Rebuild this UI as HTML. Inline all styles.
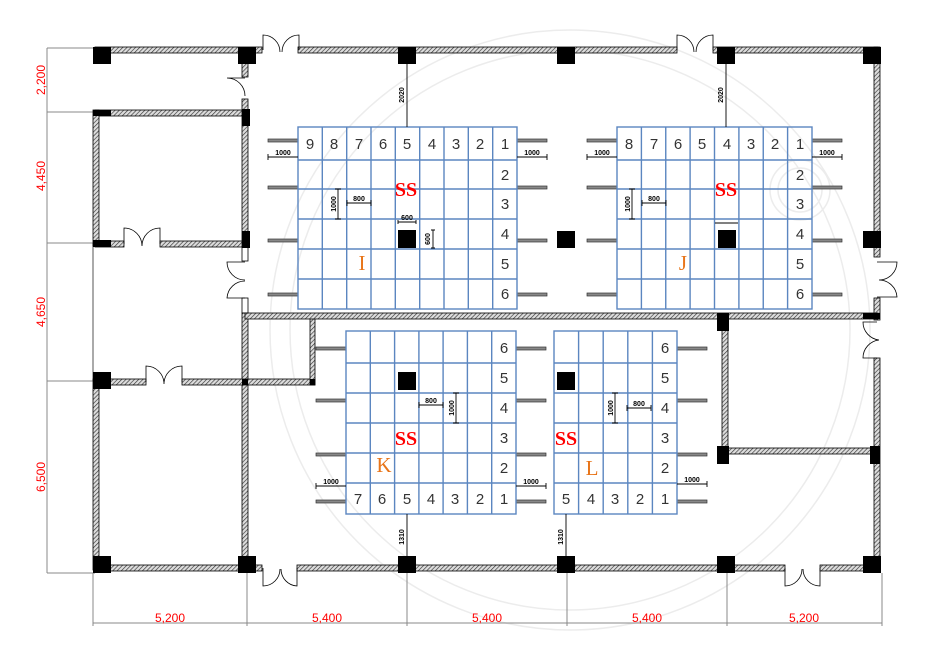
<!DOCTYPE html>
<html><head><meta charset="utf-8"><style>html,body{margin:0;padding:0;background:#fff}svg{display:block}</style></head><body>
<svg width="934" height="645" viewBox="0 0 934 645" xmlns="http://www.w3.org/2000/svg" font-family="Liberation Sans, sans-serif">
<defs>
<pattern id="h" width="3" height="3" patternUnits="userSpaceOnUse" patternTransform="rotate(45)"><rect width="3" height="3" fill="#ddd"/><line x1="0" y1="0" x2="0" y2="3" stroke="#333" stroke-width="1.3"/></pattern>
</defs>
<!-- faint watermark -->
<g fill="none" stroke="#ececec" stroke-width="1.5">
<circle cx="570" cy="330" r="300"/><circle cx="570" cy="330" r="280"/>
<circle cx="800" cy="190" r="30"/><circle cx="800" cy="190" r="22"/>
</g>
<!-- dimension lines -->
<g stroke="#888" stroke-width="1" fill="none">
<line x1="47" y1="48" x2="47" y2="573"/>
<line x1="47" y1="48" x2="95" y2="48"/><line x1="47" y1="112" x2="95" y2="112"/><line x1="47" y1="243" x2="95" y2="243"/><line x1="47" y1="381" x2="95" y2="381"/><line x1="47" y1="573" x2="95" y2="573"/>
<line x1="93" y1="623" x2="882" y2="623"/>
<line x1="93" y1="573" x2="93" y2="626"/><line x1="247" y1="573" x2="247" y2="626"/><line x1="407" y1="573" x2="407" y2="626"/><line x1="567" y1="573" x2="567" y2="626"/><line x1="727" y1="573" x2="727" y2="626"/><line x1="882" y1="573" x2="882" y2="626"/>
<line x1="93" y1="243" x2="93" y2="381" stroke="#555"/>
</g>
<g fill="#f00" font-size="12">
<text transform="translate(45,80) rotate(-90)" text-anchor="middle">2,200</text>
<text transform="translate(45,176) rotate(-90)" text-anchor="middle">4,450</text>
<text transform="translate(45,312) rotate(-90)" text-anchor="middle">4,650</text>
<text transform="translate(45,477) rotate(-90)" text-anchor="middle">6,500</text>
<text x="170" y="622" text-anchor="middle">5,200</text>
<text x="327" y="622" text-anchor="middle">5,400</text>
<text x="487" y="622" text-anchor="middle">5,400</text>
<text x="647" y="622" text-anchor="middle">5,400</text>
<text x="804" y="622" text-anchor="middle">5,200</text>
</g>
<!-- walls -->
<g fill="url(#h)" stroke="#000" stroke-width="0.8">
<rect x="95" y="47" width="167" height="6"/><rect x="298" y="47" width="379" height="6"/><rect x="713" y="47" width="165" height="6"/>
<rect x="874" y="47" width="6" height="210"/><rect x="874" y="298" width="6" height="22"/><rect x="874" y="358" width="6" height="212"/>
<rect x="95" y="110" width="150" height="6"/>
<rect x="93" y="110" width="6" height="136"/>
<rect x="95" y="241" width="29" height="6"/><rect x="160" y="241" width="85" height="6"/>
<rect x="242" y="53" width="6" height="24"/><rect x="242" y="99" width="6" height="148"/>
<rect x="242" y="313" width="6" height="257"/>
<rect x="93" y="379" width="6" height="191"/>
<rect x="95" y="379" width="51" height="6"/><rect x="182" y="379" width="133" height="6"/>
<rect x="310" y="315" width="5" height="70"/>
<rect x="245" y="313" width="633" height="6"/>
<rect x="722" y="318" width="6" height="132"/><rect x="725" y="448" width="153" height="6"/>
<rect x="95" y="565" width="167" height="6"/><rect x="297" y="565" width="488" height="6"/><rect x="820" y="565" width="58" height="6"/>
</g>
<g fill="none" stroke="#000" stroke-width="0.8">
<rect x="242" y="247" width="6" height="14"/><rect x="242" y="298" width="6" height="15"/>
<!-- doors -->
<path d="M263,50 V35 A17,17 0 0 1 280,52 M299,50 V35 A17,17 0 0 0 282,52"/>
<path d="M677,50 V35 A17,17 0 0 1 694,52 M713,50 V35 A17,17 0 0 0 696,52"/>
<path d="M245,78 H227 A18,18 0 0 1 245,96"/>
<path d="M245,262 H227 A18,18 0 0 0 245,280 M245,298 H227 A18,18 0 0 1 245,281"/>
<path d="M124,244 V228 A18,18 0 0 1 142,246 M160,244 V228 A18,18 0 0 0 142,246"/>
<path d="M146,382 V366 A18,18 0 0 1 164,384 M182,382 V366 A18,18 0 0 0 164,384"/>
<path d="M263,568 V586 A17,17 0 0 0 280,569 M297,568 V586 A17,17 0 0 1 281,569"/>
<path d="M785,568 V586 A17,17 0 0 0 802,569 M820,568 V586 A17,17 0 0 1 803,569"/>
<path d="M877,262 H897 A18,18 0 0 1 879,280 M877,297 H897 A18,18 0 0 0 879,280"/>
<path d="M877,322 H863 A18,18 0 0 0 879,340 M877,358 H863 A18,18 0 0 1 879,340"/>
</g>
<!-- columns -->
<g fill="#000">
<rect x="93" y="47" width="18" height="17"/><rect x="238" y="47" width="18" height="17"/><rect x="398" y="47" width="18" height="17"/><rect x="557" y="47" width="18" height="17"/><rect x="717" y="47" width="18" height="17"/><rect x="863" y="47" width="18" height="17"/>
<rect x="93" y="556" width="18" height="17"/><rect x="238" y="556" width="18" height="17"/><rect x="398" y="556" width="18" height="17"/><rect x="557" y="556" width="18" height="17"/><rect x="717" y="556" width="18" height="17"/><rect x="863" y="556" width="18" height="17"/>
<rect x="93" y="372" width="18" height="17"/>
<rect x="557" y="231" width="18" height="17"/><rect x="863" y="231" width="18" height="17"/>
<rect x="93" y="240" width="18" height="7"/><rect x="93" y="110" width="18" height="6"/>
<rect x="242" y="109" width="8" height="17"/><rect x="242" y="231" width="8" height="17"/>
<rect x="717" y="313" width="12" height="18"/><rect x="717" y="446" width="12" height="18"/><rect x="870" y="446" width="10" height="18"/><rect x="863" y="313" width="17" height="6"/>
<rect x="242" y="379" width="6" height="6"/><rect x="310" y="379" width="5" height="6"/>
<!-- black squares in grids -->
<rect x="398" y="230" width="18" height="18"/><rect x="718" y="230" width="18" height="18"/>
<rect x="398" y="372" width="18" height="18"/><rect x="557" y="372" width="18" height="18"/>
</g>
<!-- rack bars -->
<g fill="#888" stroke="#333" stroke-width="0.7">
<rect x="268" y="139" width="30" height="3"/><rect x="268" y="186" width="30" height="3"/><rect x="268" y="239" width="30" height="3"/><rect x="268" y="293" width="30" height="3"/>
<rect x="517" y="139" width="30" height="3"/><rect x="517" y="186" width="30" height="3"/><rect x="517" y="239" width="30" height="3"/><rect x="517" y="293" width="30" height="3"/>
<rect x="587" y="139" width="30" height="3"/><rect x="587" y="186" width="30" height="3"/><rect x="587" y="239" width="30" height="3"/><rect x="587" y="293" width="30" height="3"/>
<rect x="812" y="139" width="30" height="3"/><rect x="812" y="186" width="30" height="3"/><rect x="812" y="239" width="30" height="3"/><rect x="812" y="293" width="30" height="3"/>
<rect x="316" y="347" width="30" height="3"/><rect x="316" y="399" width="30" height="3"/><rect x="316" y="453" width="30" height="3"/><rect x="316" y="500" width="30" height="3"/>
<rect x="516" y="347" width="30" height="3"/><rect x="516" y="399" width="30" height="3"/><rect x="516" y="453" width="30" height="3"/><rect x="516" y="500" width="30" height="3"/>
<rect x="677" y="347" width="30" height="3"/><rect x="677" y="399" width="30" height="3"/><rect x="677" y="453" width="30" height="3"/><rect x="677" y="500" width="30" height="3"/>
</g>
<!-- grids -->
<g fill="none" stroke="#5b86c0" stroke-width="1.4">
<rect x="298" y="127" width="219" height="182"/>
<path d="M322.3,127V309M346.7,127V309M371,127V309M395.3,127V309M419.7,127V309M444,127V309M468.3,127V309M492.7,127V309M298,160H517M298,189H517M298,219H517M298,249H517M298,279H517"/>
<rect x="617" y="127" width="195" height="182"/>
<path d="M641.4,127V309M665.75,127V309M690.1,127V309M714.5,127V309M738.9,127V309M763.25,127V309M787.6,127V309M617,160H812M617,189H812M617,219H812M617,249H812M617,279H812"/>
<rect x="346" y="331" width="170" height="183"/>
<path d="M370.3,331V514M394.6,331V514M418.9,331V514M443.1,331V514M467.4,331V514M491.7,331V514M346,363H516M346,393H516M346,423H516M346,453H516M346,483H516"/>
<rect x="554" y="331" width="123" height="183"/>
<path d="M578.6,331V514M603.2,331V514M627.8,331V514M652.4,331V514M554,363H677M554,393H677M554,423H677M554,453H677M554,483H677"/>
</g>
<!-- small dims / leader lines -->
<g stroke="#000" stroke-width="0.9" fill="none">
<line x1="407" y1="62" x2="407" y2="127"/><line x1="726" y1="62" x2="726" y2="127"/>
<line x1="407" y1="514" x2="407" y2="558"/><line x1="566" y1="514" x2="566" y2="558"/>
<path d="M268,157H298M268,154V160M517,157H547M547,154V160"/>
<path d="M587,157H617M587,154V160M812,157H842M842,154V160"/>
<path d="M316,486H346M316,483V489M516,486H546M546,483V489M677,484H707M707,481V487"/>
<path d="M338,189V219M335,189H341M335,219H341M347,203H371M347,200V206M371,200V206"/>
<path d="M632,189V219M629,189H635M629,219H635M642,203H666M642,200V206M666,200V206"/>
<path d="M398,222H416M398,220V224M416,220V224M433,230V248M431,230H435M431,248H435"/>
<path d="M715,223H738"/>
<path d="M419,405H443M419,402V408M443,402V408M456,393V423M453,393H459M453,423H459"/>
<path d="M615,393V423M612,393H618M612,423H618M627,408H651M627,405V411M651,405V411"/>
</g>
<g font-size="7" fill="#000" font-weight="bold">
<text transform="translate(404,95) rotate(-90)" text-anchor="middle">2020</text>
<text transform="translate(723,95) rotate(-90)" text-anchor="middle">2020</text>
<text transform="translate(404,537) rotate(-90)" text-anchor="middle">1310</text>
<text transform="translate(563,537) rotate(-90)" text-anchor="middle">1310</text>
<text x="283" y="155" text-anchor="middle">1000</text><text x="532" y="155" text-anchor="middle">1000</text>
<text x="602" y="155" text-anchor="middle">1000</text><text x="827" y="155" text-anchor="middle">1000</text>
<text x="331" y="484" text-anchor="middle">1000</text><text x="531" y="484" text-anchor="middle">1000</text><text x="692" y="482" text-anchor="middle">1000</text>
<text transform="translate(336,204) rotate(-90)" text-anchor="middle">1000</text><text x="359" y="201" text-anchor="middle">800</text>
<text transform="translate(630,204) rotate(-90)" text-anchor="middle">1000</text><text x="654" y="201" text-anchor="middle">800</text>
<text x="407" y="220" text-anchor="middle">600</text><text transform="translate(430,239) rotate(-90)" text-anchor="middle">600</text>
<text x="431" y="403" text-anchor="middle">800</text><text transform="translate(454,408) rotate(-90)" text-anchor="middle">1000</text>
<text transform="translate(613,408) rotate(-90)" text-anchor="middle">1000</text><text x="639" y="406" text-anchor="middle">800</text>
</g>
<!-- numbers -->
<g font-size="15" fill="#333" text-anchor="middle">
<text x="310" y="149">9</text><text x="334" y="149">8</text><text x="359" y="149">7</text><text x="383" y="149">6</text><text x="407" y="149">5</text><text x="432" y="149">4</text><text x="456" y="149">3</text><text x="480" y="149">2</text><text x="505" y="149">1</text>
<text x="505" y="180">2</text><text x="505" y="209">3</text><text x="505" y="239">4</text><text x="505" y="269">5</text><text x="505" y="299">6</text>
<text x="629" y="149">8</text><text x="654" y="149">7</text><text x="678" y="149">6</text><text x="702" y="149">5</text><text x="727" y="149">4</text><text x="751" y="149">3</text><text x="775" y="149">2</text><text x="800" y="149">1</text>
<text x="800" y="180">2</text><text x="800" y="209">3</text><text x="800" y="239">4</text><text x="800" y="269">5</text><text x="800" y="299">6</text>
<text x="358" y="504">7</text><text x="382" y="504">6</text><text x="407" y="504">5</text><text x="431" y="504">4</text><text x="455" y="504">3</text><text x="480" y="504">2</text><text x="504" y="504">1</text>
<text x="504" y="353">6</text><text x="504" y="383">5</text><text x="504" y="413">4</text><text x="504" y="443">3</text><text x="504" y="473">2</text>
<text x="566" y="504">5</text><text x="591" y="504">4</text><text x="615" y="504">3</text><text x="640" y="504">2</text><text x="665" y="504">1</text>
<text x="665" y="353">6</text><text x="665" y="383">5</text><text x="665" y="413">4</text><text x="665" y="443">3</text><text x="665" y="473">2</text>
</g>
<g font-family="Liberation Serif, serif" font-weight="bold" font-size="20" fill="#f00" text-anchor="middle">
<text x="406" y="196">SS</text><text x="726" y="196">SS</text><text x="406" y="445">SS</text><text x="566" y="445">SS</text>
</g>
<g font-family="Liberation Serif, serif" font-size="21" fill="#e8751a" text-anchor="middle">
<text x="362" y="270">I</text><text x="683" y="270">J</text><text x="384" y="472">K</text><text x="592" y="475">L</text>
</g>
</svg>
</body></html>
